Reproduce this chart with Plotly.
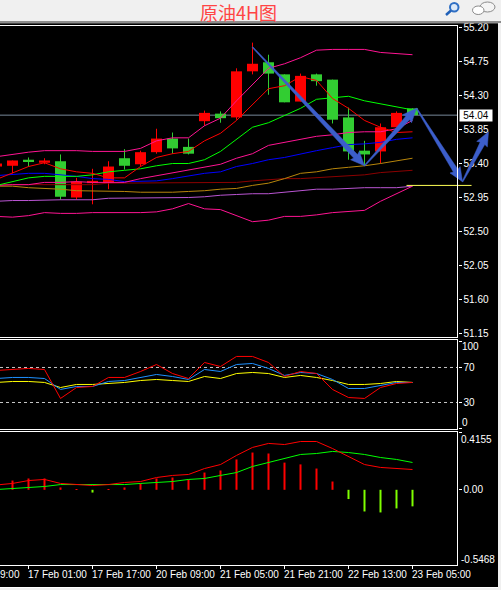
import math
import plotly.graph_objects as go

W, H = 501, 590
bars = list(range(-1, 26))
open_ = [53.36,53.37,53.45,53.41,53.43,52.95,53.14,53.15,53.47,53.39,53.55,53.73,53.62,53.96,54.06,54.01,54.62,54.74,54.58,54.22,54.58,54.51,54.01,53.57,53.56,53.88,54.13]
close = [53.40,53.44,53.43,53.44,52.96,53.16,53.17,53.36,53.37,53.55,53.73,53.60,53.53,54.07,54.00,54.62,54.72,54.59,54.21,54.56,54.49,53.98,53.56,53.52,53.88,54.07,54.04]
high = [53.41,53.44,53.48,53.47,53.52,53.21,53.33,53.43,53.59,53.57,53.86,53.81,53.73,54.10,54.09,54.66,55.00,54.84,54.58,54.59,54.59,54.51,54.14,53.70,53.93,54.09,54.13]
low = [53.35,53.27,53.36,53.39,52.92,52.92,52.86,53.06,53.32,53.36,53.53,53.53,53.52,53.90,53.94,53.98,54.58,54.31,54.21,54.22,54.43,53.93,53.45,53.37,53.40,53.88,54.04]

ma_red = [53.19,53.27,53.36,53.41,53.33,53.29,53.27,53.21,53.21,53.36,53.48,53.53,53.56,53.70,53.80,53.97,54.18,54.39,54.43,54.55,54.50,54.26,54.13,53.97,53.88,53.81,53.82]
ma_green = [53.11,53.16,53.21,53.23,53.23,53.23,53.25,53.29,53.31,53.33,53.37,53.40,53.40,53.45,53.56,53.72,53.88,53.94,54.04,54.13,54.25,54.27,54.29,54.23,54.19,54.15,54.11]
ma_pink = [53.11,53.12,53.12,53.15,53.15,53.16,53.15,53.15,53.15,53.20,53.24,53.27,53.31,53.35,53.39,53.47,53.53,53.64,53.68,53.73,53.76,53.78,53.81,53.82,53.82,53.86,53.97]
ma_blue = [53.24,53.25,53.27,53.27,53.25,53.23,53.20,53.19,53.16,53.17,53.17,53.20,53.23,53.27,53.29,53.36,53.40,53.45,53.48,53.53,53.57,53.61,53.65,53.66,53.68,53.72,53.74]
ma_maroon = [53.12,53.12,53.12,53.12,53.12,53.12,53.12,53.14,53.14,53.14,53.14,53.14,53.14,53.14,53.14,53.15,53.17,53.19,53.20,53.20,53.21,53.23,53.24,53.25,53.28,53.29,53.31]
ma_orange = [53.10,53.10,53.08,53.07,53.06,53.04,53.04,53.03,53.03,53.02,53.02,53.02,53.03,53.04,53.06,53.07,53.11,53.14,53.20,53.27,53.29,53.33,53.35,53.37,53.40,53.43,53.47]
ma_purple = [52.90,52.91,52.91,52.92,52.92,52.92,52.92,52.94,52.94,52.94,52.94,52.95,52.95,52.96,52.98,52.99,53.00,53.00,53.02,53.03,53.06,53.06,53.07,53.08,53.08,53.08,53.10]
bb_upper = [53.49,53.52,53.55,53.57,53.57,53.57,53.56,53.56,53.56,53.60,53.70,53.74,53.74,53.90,54.00,54.23,54.45,54.66,54.72,54.80,54.90,54.91,54.91,54.91,54.87,54.86,54.84]
bb_lower = [52.70,52.69,52.71,52.75,52.74,52.74,52.75,52.75,52.75,52.75,52.76,52.80,52.87,52.80,52.79,52.71,52.63,52.65,52.70,52.70,52.72,52.75,52.76,52.78,52.90,53.00,53.10]

rsi_red = [66.6,67.7,68.9,67.7,34.6,47.1,48.3,58.6,58.6,65.4,73.4,63.1,57.4,75.7,71.1,82.6,82.6,75.7,59.7,65.4,63.1,44.9,35.7,34.6,47.1,51.7,52.9]
rsi_blue = [57.4,58.6,58.6,57.4,44.9,48.3,48.3,54.0,55.1,58.6,62.0,59.7,56.3,67.7,65.4,73.4,74.6,68.9,60.9,64.3,63.1,56.3,46.0,46.0,49.4,52.9,52.9]
rsi_yellow = [52.9,54.0,54.0,52.9,47.1,50.6,50.6,51.7,52.9,55.1,56.3,55.1,54.0,59.7,57.4,63.1,64.3,63.1,58.6,60.9,58.6,55.1,50.6,50.6,51.7,54.0,52.9]

macd_hist = [.06,.067,.082,.082,.017,.004,-.02,.004,.017,.046,.082,.089,.075,.125,.14,.22,.27,.263,.197,.184,.154,.06,-.067,-.157,-.164,-.135,-.12]
macd_red = [.035,.046,.067,.075,.046,.038,.031,.038,.053,.06,.089,.104,.111,.154,.183,.249,.307,.336,.328,.35,.35,.299,.241,.183,.162,.154,.147]
macd_green = [.002,.009,.017,.024,.038,.038,.038,.038,.038,.046,.053,.06,.075,.082,.104,.125,.169,.198,.227,.256,.263,.278,.27,.256,.234,.22,.198]

arrow_bar = [15, 22, 25.25, 28.125, 29.75]
arrow_price = [54.94, 53.37, 54.13, 53.16, 53.82]

price_ticks = [55.20,54.75,54.30,53.85,53.40,52.95,52.50,52.05,51.60,51.15]
last_price = 54.04
support_price = 53.11
support_bars = [24.625, 28.69]
time_tick_bars = [1,5,9,13,17,21,25]
time_tick_labels = ["17 Feb 01:00","17 Feb 17:00","20 Feb 09:00","21 Feb 05:00","21 Feb 21:00","22 Feb 13:00","23 Feb 05:00"]

FONT = "Liberation Sans"
RED, GREEN, PINK = "#ff0000", "#32cd32", "#ff1493"
PX_BAR, PX_PRICE = 16.0, 75.56


def px_x(p):
    return p / W


def px_y(p):
    return 1 - p / H


fig = go.Figure()

# candles
fig.add_trace(go.Bar(
    x=bars, y=[abs(c - o) for o, c in zip(open_, close)],
    base=[min(o, c) for o, c in zip(open_, close)], width=0.69,
    marker=dict(color=[RED if c >= o else GREEN for o, c in zip(open_, close)], line_width=0),
    xaxis="x", yaxis="y", showlegend=False))
for colour, up in ((RED, True), (GREEN, False)):
    xs, ys = [], []
    for b, o, c, h, l in zip(bars, open_, close, high, low):
        if (c >= o) == up:
            xs += [b, b, None]
            ys += [h, l, None]
    fig.add_trace(go.Scatter(x=xs, y=ys, mode="lines", line=dict(color=colour, width=1),
                             xaxis="x", yaxis="y", showlegend=False))

for series, colour in ((ma_maroon, "#8b0000"), (ma_orange, "#b8860b"), (ma_purple, "#ba55d3"),
                       (bb_upper, PINK), (bb_lower, PINK), (ma_blue, "#0000ff"),
                       (ma_pink, PINK), (ma_green, "#00ff00"), (ma_red, RED)):
    fig.add_trace(go.Scatter(x=bars, y=series, mode="lines", line=dict(color=colour, width=1),
                             xaxis="x", yaxis="y", showlegend=False))

fig.add_trace(go.Scatter(x=support_bars, y=[support_price] * 2, mode="lines",
                         line=dict(color="#ffff55", width=1), xaxis="x", yaxis="y", showlegend=False))

# tapered arrows, built in pixel space from the drawn turning points
for k in range(len(arrow_bar) - 1):
    x0, y0 = arrow_bar[k] * PX_BAR, -arrow_price[k] * PX_PRICE
    x1, y1 = arrow_bar[k + 1] * PX_BAR, -arrow_price[k + 1] * PX_PRICE
    d = math.hypot(x1 - x0, y1 - y0)
    ux, uy = (x1 - x0) / d, (y1 - y0) / d
    nx, ny = -uy, ux
    hl = 13.0
    nk = (x1 - ux * hl, y1 - uy * hl)
    pts = [(x0 + nx * .5, y0 + ny * .5),
           (nk[0] + nx * 2.6, nk[1] + ny * 2.6),
           (nk[0] - ux * 1 + nx * 6, nk[1] - uy * 1 + ny * 6),
           (x1, y1),
           (nk[0] - ux * 1 - nx * 6, nk[1] - uy * 1 - ny * 6),
           (nk[0] - nx * 2.6, nk[1] - ny * 2.6),
           (x0 - nx * .5, y0 - ny * .5)]
    fig.add_trace(go.Scatter(x=[p[0] / PX_BAR for p in pts] + [pts[0][0] / PX_BAR],
                             y=[-p[1] / PX_PRICE for p in pts] + [-pts[0][1] / PX_PRICE],
                             mode="lines", fill="toself", fillcolor="#3c5ecb",
                             line=dict(color="#3c5ecb", width=0.5),
                             xaxis="x", yaxis="y", showlegend=False))

# RSI
for series, colour in ((rsi_yellow, "#ffff00"), (rsi_blue, "#1e90ff"), (rsi_red, RED)):
    fig.add_trace(go.Scatter(x=bars, y=series, mode="lines", line=dict(color=colour, width=1),
                             xaxis="x", yaxis="y2", showlegend=False))

# MACD
fig.add_trace(go.Bar(x=bars, y=macd_hist, width=0.125,
                     marker=dict(color=[RED if v >= 0 else "#7fff00" for v in macd_hist], line_width=0),
                     xaxis="x", yaxis="y3", showlegend=False))
for series, colour in ((macd_green, "#00ff00"), (macd_red, RED)):
    fig.add_trace(go.Scatter(x=bars, y=series, mode="lines", line=dict(color=colour, width=1),
                             xaxis="x", yaxis="y3", showlegend=False))

shapes = []


def box(x0, y0, x1, y1, fill, layer="above"):
    shapes.append(dict(type="rect", xref="paper", yref="paper", x0=px_x(x0), x1=px_x(x1),
                       y0=px_y(y0), y1=px_y(y1), fillcolor=fill, line_width=0, layer=layer))


box(0, 0, W, 21, "#f0f0f0")
box(0, 21, W, 23.5, "#8c8c8c")
box(498, 23, W, H, "#f0f0f0")
box(0, 588, W, H, "#f0f0f0")
box(0, 587, 498, 588, "#ffffff")
for yy in (25, 337, 339, 429, 431, 565):
    box(0, yy, 458, yy + 1, "#ffffff")
box(457, 25, 458, 337, "#ffffff")
box(457, 339, 458, 430, "#ffffff")
box(457, 431, 458, 566, "#ffffff")
# current price level
shapes.append(dict(type="line", xref="paper", yref="y", x0=0, x1=px_x(457), y0=last_price, y1=last_price,
                   line=dict(color="#778899", width=1), layer="below"))
# RSI levels
for lv in (70, 30):
    shapes.append(dict(type="line", xref="paper", yref="y2", x0=0, x1=px_x(457), y0=lv, y1=lv,
                       line=dict(color="#c8c8c8", width=1, dash="3px,3px"), layer="below"))
# toolbar icons
shapes.append(dict(type="circle", xref="paper", yref="paper", x0=px_x(450), x1=px_x(458.5), y0=px_y(11.5), y1=px_y(3),
                   line=dict(color="#2f6fc4", width=2), fillcolor="#dce9f8"))
shapes.append(dict(type="line", xref="paper", yref="paper", x0=px_x(451), x1=px_x(446), y0=px_y(10.5), y1=px_y(15),
                   line=dict(color="#2060b8", width=2.5)))
shapes.append(dict(type="circle", xref="paper", yref="paper", x0=px_x(480), x1=px_x(495), y0=px_y(12), y1=px_y(2),
                   line=dict(color="#8a8a8a", width=1), fillcolor="#f4f4f4"))
shapes.append(dict(type="circle", xref="paper", yref="paper", x0=px_x(472.5), x1=px_x(484), y0=px_y(14.5), y1=px_y(6),
                   line=dict(color="#8a8a8a", width=1), fillcolor="#ffffff"))

annots = [dict(text="原油4H图", xref="paper", yref="paper", x=px_x(238), y=px_y(12.5), xanchor="center", yanchor="middle",
               showarrow=False, font=dict(family="Noto Sans CJK SC", size=18, color="#ff4444"))]


def label(text, x_px, y_px, anchor="left", color="#ffffff"):
    annots.append(dict(text=text, xref="paper", yref="paper", x=px_x(x_px), y=px_y(y_px), xanchor=anchor,
                       yanchor="middle", showarrow=False, font=dict(family=FONT, size=10, color=color),
                       borderpad=0, borderwidth=0))


for b, t in zip(time_tick_bars, time_tick_labels):
    label(t, 12.5 + b * PX_BAR - 1, 574.5)
label("9:00", 0, 574.5)
label("100", 462, 346)
label("0", 462, 422)
label("0.4155", 461, 439)
label("-0.5468", 461, 559)
annots.append(dict(text=f"{last_price:.2f}", xref="paper", yref="y", x=px_x(459), y=last_price, xanchor="left",
                   yanchor="middle", showarrow=False, bgcolor="#ffffff", borderpad=1, width=30, height=9,
                   align="center", font=dict(family=FONT, size=10, color="#000000")))

yax = dict(side="right", anchor="free", position=457.5 / W, showgrid=False, zeroline=False, showline=False,
           ticks="outside", ticklen=3, tickcolor="#ffffff", tickwidth=1, layer="below traces",
           tickfont=dict(family=FONT, size=10, color="#ffffff"), tickmode="array")

fig.update_layout(
    width=W, height=H, autosize=False, margin=dict(l=0, r=0, t=0, b=0, pad=0, autoexpand=False),
    paper_bgcolor="#000000", plot_bgcolor="rgba(0,0,0,0)", barmode="overlay", showlegend=False,
    xaxis=dict(domain=[0, 1], range=[-12.5 / PX_BAR, (W - 12.5) / PX_BAR], anchor="y3", showgrid=False,
               zeroline=False, showline=False, ticks="outside", ticklen=3, tickcolor="#ffffff", tickwidth=1,
               tickmode="array", tickvals=time_tick_bars, showticklabels=False),
    yaxis=dict(yax, domain=[px_y(336), px_y(26)], range=[51.117, 55.22], tickvals=price_ticks,
               ticktext=[f"{v:.2f}" for v in price_ticks]),
    yaxis2=dict(yax, domain=[px_y(429), px_y(340)], range=[-0.29, 101.4], tickvals=[100, 70, 30, 0],
                ticktext=["", "70", "30", ""]),
    yaxis3=dict(yax, domain=[px_y(565), px_y(432)], range=[-.5449, .4188], tickvals=[.4155, 0, -.5468],
                ticktext=["", "0.00", ""]),
    shapes=shapes, annotations=annots, hovermode=False,
)

fig.write_html("out.html", config={"displayModeBar": False},
               post_script="document.body.style.margin='0';document.documentElement.style.overflow='hidden';")
